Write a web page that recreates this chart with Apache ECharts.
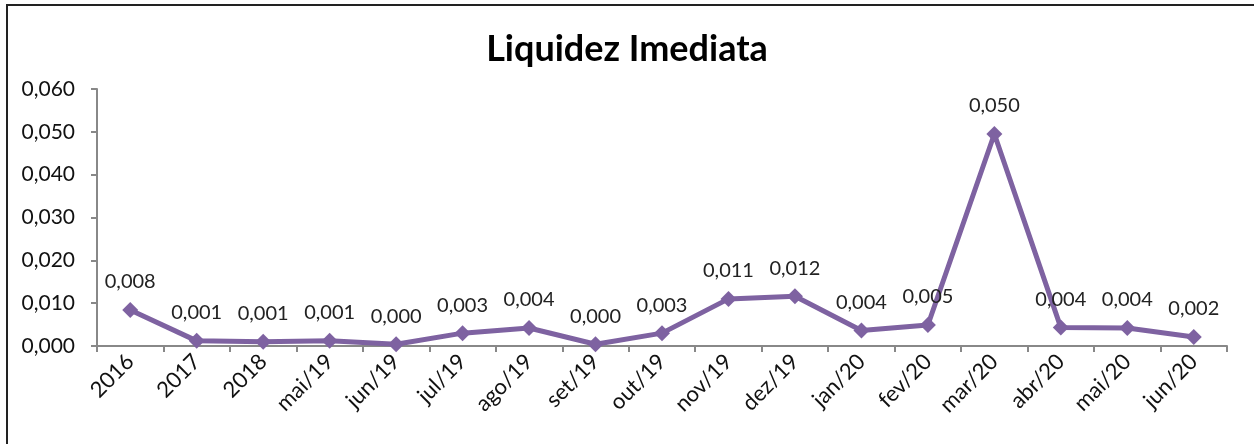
<!DOCTYPE html>
<html>
<head>
<meta charset="utf-8">
<script src="https://cdn.jsdelivr.net/npm/echarts@6/dist/echarts.min.js"></script>
<style>
  html, body { margin: 0; padding: 0; background: #fff; }
  #frame {
    position: absolute; left: 6px; top: 4px; width: 1246px; height: 460px;
    border-left: 2px solid #222; border-top: 2px solid #222; border-right: 1px solid #ccc;
  }
  #chart { position: absolute; left: 0; top: 0; width: 1254px; height: 444px; }
</style>
</head>
<body>
<div id="frame"></div>
<div id="chart"></div>
<script>
const categories = ['2016', '2017', '2018', 'mai/19', 'jun/19', 'jul/19', 'ago/19', 'set/19', 'out/19',
  'nov/19', 'dez/19', 'jan/20', 'fev/20', 'mar/20', 'abr/20', 'mai/20', 'jun/20']
const liquidez = [0.0084, 0.0012, 0.0010, 0.0012, 0.0004, 0.0030, 0.0042, 0.0004, 0.0030,
  0.0110, 0.0116, 0.0036, 0.0049, 0.0495, 0.0043, 0.0042, 0.0021]
const yTicks = [0, 0.01, 0.02, 0.03, 0.04, 0.05, 0.06]

const fmt = (v) => Number(v).toFixed(3).replace('.', ',')
const font = 'Lato, "Open Sans", sans-serif'

const myChart = echarts.init(document.getElementById('chart'))
const option = {
  animation: false,
  title: {
    text: 'Liquidez Imediata',
    left: 'center',
    top: 26,
    textStyle: { fontFamily: font, fontSize: 36, fontWeight: 'bold', color: '#000' },
  },
  grid: { left: 97, right: 27, top: 89, bottom: 98 },
  xAxis: {
    type: 'category',
    data: categories,
    boundaryGap: true,
    axisLine: { lineStyle: { color: '#888', width: 2 } },
    axisTick: { show: true, length: 6, lineStyle: { color: '#888', width: 2 } },
    axisLabel: { rotate: 45, fontFamily: font, fontSize: 22, color: '#111', margin: 12, interval: 0 },
  },
  yAxis: {
    type: 'value',
    min: yTicks[0],
    max: yTicks[yTicks.length - 1],
    interval: 0.01,
    axisLine: { show: true, lineStyle: { color: '#888', width: 2 } },
    axisTick: { show: true, length: 6, lineStyle: { color: '#888', width: 2 } },
    splitLine: { show: false },
    axisLabel: { formatter: fmt, fontFamily: font, fontSize: 21, color: '#111', margin: 22 },
  },
  series: [
    {
      name: 'Liquidez Imediata',
      type: 'line',
      data: liquidez,
      symbol: 'diamond',
      symbolSize: 16,
      itemStyle: { color: '#7E62A1' },
      lineStyle: { color: '#7E62A1', width: 5 },
      label: {
        show: true, position: 'top', distance: 10, formatter: (p) => fmt(p.value),
        fontFamily: font, fontSize: 20, color: '#222',
      },
    },
  ],
}
myChart.setOption(option)
</script>
</body>
</html>
